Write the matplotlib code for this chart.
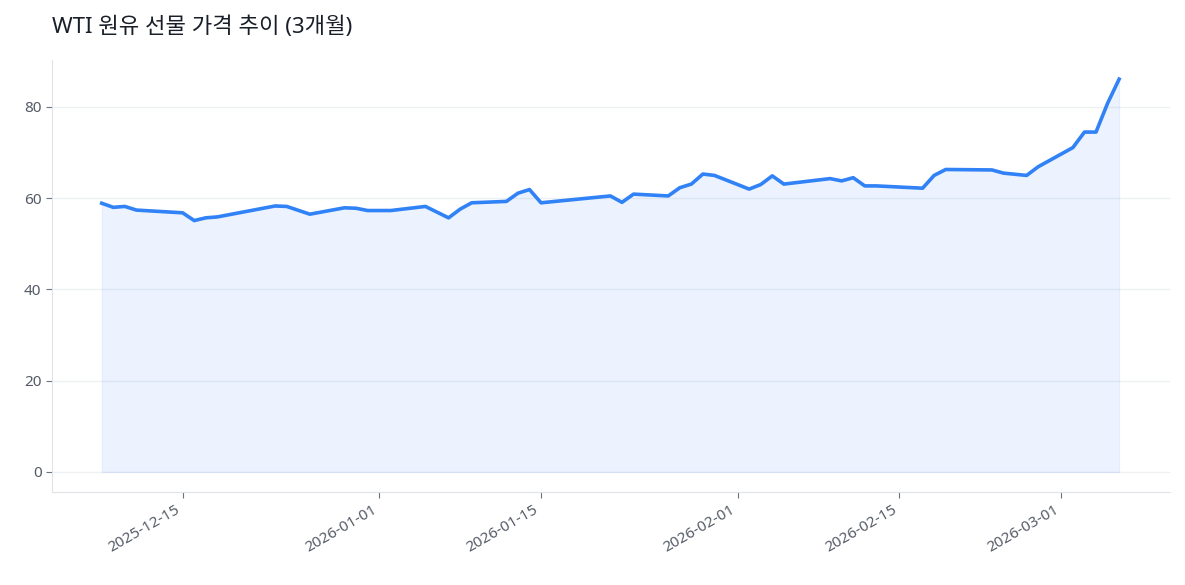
import matplotlib
matplotlib.use("Agg")
import matplotlib.pyplot as plt
import matplotlib.dates as mdates
import pandas as pd

plt.rcParams['font.family'] = ['Noto Sans', 'Noto Sans CJK KR', 'DejaVu Sans']

dates = ["2025-12-08","2025-12-09","2025-12-10","2025-12-11","2025-12-15","2025-12-16","2025-12-17","2025-12-18",
         "2025-12-23","2025-12-24","2025-12-26","2025-12-29","2025-12-30","2025-12-31","2026-01-02","2026-01-05",
         "2026-01-07","2026-01-08","2026-01-09","2026-01-12","2026-01-13","2026-01-14","2026-01-15","2026-01-21",
         "2026-01-22","2026-01-23","2026-01-26","2026-01-27","2026-01-28","2026-01-29","2026-01-30","2026-02-02",
         "2026-02-03","2026-02-04","2026-02-05","2026-02-09","2026-02-10","2026-02-11","2026-02-12","2026-02-13",
         "2026-02-17","2026-02-18","2026-02-19","2026-02-23","2026-02-24","2026-02-26","2026-02-27","2026-03-02",
         "2026-03-03","2026-03-04","2026-03-05","2026-03-06"]
prices = [58.9, 58.0, 58.2, 57.4, 56.8, 55.1, 55.7, 55.9,
          58.3, 58.2, 56.5, 57.9, 57.8, 57.3, 57.3, 58.2,
          55.7, 57.6, 59.0, 59.3, 61.1, 61.9, 59.0, 60.5,
          59.1, 60.9, 60.5, 62.3, 63.1, 65.3, 65.0, 62.0,
          63.0, 64.9, 63.1, 64.3, 63.8, 64.5, 62.7, 62.7,
          62.2, 65.0, 66.3, 66.2, 65.5, 65.0, 66.9, 71.1,
          74.5, 74.5, 80.8, 86.1]
title = "WTI 원유 선물 가격 추이 (3개월)"
xticks = ["2025-12-15","2026-01-01","2026-01-15","2026-02-01","2026-02-15","2026-03-01"]

x = pd.to_datetime(dates)
fig = plt.figure(figsize=(11.85, 5.85), dpi=100)
ax = fig.add_axes([52/1185, 1-492/585, (1170-52)/1185, (492-60)/585])
color = '#3182f6'
ax.fill_between(x, prices, 0, facecolor=color, alpha=0.09, edgecolor=color, linewidth=0.8)
ax.plot(x, prices, color=color, linewidth=2.6)

ax.set_xlim(pd.Timestamp("2025-12-15") - pd.Timedelta(days=11.3), pd.Timestamp("2025-12-15") + pd.Timedelta(days=85.4))
ax.set_ylim(-4.4, 90.3)
ax.set_yticks([0, 20, 40, 60, 80])
ax.set_xticks(pd.to_datetime(xticks))
ax.xaxis.set_major_formatter(mdates.DateFormatter('%Y-%m-%d'))
for lbl in ax.get_xticklabels():
    lbl.set_rotation(30)
    lbl.set_ha('right')
ax.tick_params(axis='both', colors='#6b7280', labelsize=11, length=4, width=0.8)
for lbl in ax.get_xticklabels() + ax.get_yticklabels():
    lbl.set_color('#555b66')
ax.grid(axis='y', color='#eef0f3', linewidth=1)
ax.set_axisbelow(True)
for s in ['top', 'right']:
    ax.spines[s].set_visible(False)
for s in ['left', 'bottom']:
    ax.spines[s].set_color('#e0e3e8')
fig.text(52/1185, 1-27/585, title, fontsize=16, color='#191f28', va='center', ha='left')
fig.savefig("out.png", dpi=100)
